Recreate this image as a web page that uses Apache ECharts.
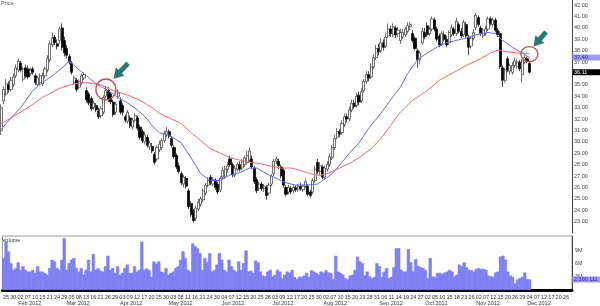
<!DOCTYPE html>
<html><head><meta charset="utf-8">
<script src="https://cdn.jsdelivr.net/npm/echarts@6/dist/echarts.min.js"></script>
<style>html,body{margin:0;padding:0;background:#fff}#c{width:600px;height:306px}</style>
</head><body><div id="c"></div>
<script>
// Trading days shown on the axis (2012)
const monthDays = [
  ['Jan', [24,25,26,27,30,31]],
  ['Feb', [1,2,3,6,7,8,9,10,13,14,15,16,17,21,22,23,24,27,28,29]],
  ['Mar', [1,2,5,6,7,8,9,12,13,14,15,16,19,20,21,22,23,26,27,28,29,30]],
  ['Apr', [2,3,4,5,9,10,11,12,13,16,17,18,19,20,23,24,25,26,27,30]],
  ['May', [1,2,3,4,7,8,9,10,11,14,15,16,17,18,21,22,23,24,25,29,30,31]],
  ['Jun', [1,4,5,6,7,8,11,12,13,14,15,18,19,20,21,22,25,26,27,28,29]],
  ['Jul', [2,3,5,6,9,10,11,12,13,16,17,18,19,20,23,24,25,26,27,30,31]],
  ['Aug', [1,2,3,6,7,8,9,10,13,14,15,16,17,20,21,22,23,24,27,28,29,30,31]],
  ['Sep', [4,5,6,7,10,11,12,13,14,17,18,19,20,21,24,25,26,27,28]],
  ['Oct', [1,2,3,4,5,8,9,10,11,12,15,16,17,18,19,22,23,24,25,26,31]],
  ['Nov', [1,2,5,6,7,8,9,12,13,14,15,16,19,20,21,23,26,27,28,29,30]],
  ['Dec', [3,4,5,6,7,10,11,12,13,14,17,18,19,20,21,24,26,27,28]]
];
// [open, close, low, high]
const candles = [
[31.0,33.0,30.6,33.3],[33.6,34.6,33.3,34.9],[34.2,35.1,34.0,35.5],[35.0,34.6,34.3,35.3],[34.6,35.4,34.4,35.7],
[35.0,35.7,34.8,36.0],[35.8,36.5,35.6,36.8],[36.3,37.1,36.1,37.3],[36.9,36.3,36.1,37.1],[35.5,36.4,35.3,36.6],
[36.5,35.8,35.6,36.8],[36.4,35.7,35.5,36.7],[36.0,36.3,35.8,36.5],[36.4,36.1,35.9,36.6],[35.8,35.2,35.0,36.0],
[35.0,35.6,34.9,35.8],[35.2,35.8,35.0,36.0],[35.1,35.8,34.9,36.1],[35.8,36.4,35.6,36.6],[36.3,37.3,36.1,37.6],
[37.2,38.6,37.0,38.9],[38.5,39.1,38.3,39.6],[39.2,38.7,38.5,39.4],[38.6,38.4,38.1,39.0],[38.9,39.9,38.6,40.1],
[40.0,38.3,38.0,40.4],[38.9,37.8,37.5,39.2],[38.2,37.6,37.3,38.5],[37.5,37.0,36.8,37.7],[36.9,36.1,35.9,37.1],
[35.2,35.6,35.0,35.8],[35.4,34.6,34.4,35.6],[34.8,35.3,34.6,35.5],[35.2,35.8,35.0,36.0],[35.6,35.9,35.4,36.1],
[34.5,33.7,33.5,34.8],[34.2,33.4,33.2,34.4],[33.8,32.9,32.7,34.0],[33.0,33.4,32.8,33.6],[33.2,32.8,32.6,33.4],
[32.7,32.2,32.0,33.0],[32.3,32.9,32.1,33.1],[32.6,33.9,32.4,34.1],[34.0,34.5,33.8,34.9],[34.5,33.7,33.5,34.8],
[34.2,33.5,33.3,34.4],[33.5,32.4,32.2,33.7],[32.6,33.3,32.4,33.5],[34.0,34.3,33.8,34.6],[33.6,32.6,32.4,33.9],
[33.2,32.6,32.3,33.4],[32.2,31.9,31.7,32.4],[31.8,32.6,31.6,32.8],[32.1,31.4,31.2,32.3],[31.3,31.9,31.1,32.1],
[31.9,32.3,31.7,32.5],[32.1,31.2,31.0,32.3],[31.3,30.4,30.2,31.5],[30.9,30.1,29.9,31.1],[30.0,30.6,29.8,30.9],
[30.4,29.7,29.5,30.6],[29.6,29.9,29.3,30.1],[29.6,29.2,29.0,29.9],[28.9,28.2,28.0,29.1],[28.5,29.5,28.3,29.7],
[29.3,29.8,29.1,30.1],[29.5,30.1,29.3,30.3],[30.1,30.7,29.9,31.0],[30.6,30.9,30.4,31.3],[30.9,30.5,30.3,31.1],
[30.3,29.7,29.5,30.5],[29.5,28.7,28.5,29.7],[28.8,27.8,27.6,29.0],[27.9,27.4,27.2,28.2],[27.2,26.4,26.2,27.4],
[26.3,26.9,26.0,27.1],[26.8,26.1,25.9,27.0],[25.7,24.3,24.1,25.9],[24.6,23.6,23.4,24.8],[23.9,23.1,22.9,24.1],
[23.3,24.2,23.0,24.4],[24.1,24.7,23.9,25.0],[24.5,25.0,24.3,25.2],[24.9,25.7,24.7,25.9],[25.5,26.2,25.3,26.4],
[26.2,26.6,26.0,26.9],[26.9,26.4,26.2,27.1],[26.3,26.7,26.1,26.9],[26.6,26.0,25.8,26.8],[26.3,25.6,25.4,26.5],
[25.8,26.8,25.6,27.0],[26.9,27.5,26.7,27.8],[27.0,27.6,26.8,27.9],[27.6,27.9,27.3,28.2],[28.5,28.0,27.8,28.8],
[28.0,27.1,26.9,28.2],[27.1,27.7,26.9,27.9],[27.6,28.0,27.4,28.2],[28.0,27.6,27.4,28.3],[27.7,28.3,27.5,28.5],
[28.0,28.6,27.8,28.8],[28.2,28.8,28.0,29.2],[28.4,29.2,28.2,29.5],[28.5,27.8,27.6,28.8],[27.7,26.5,26.3,27.9],
[26.7,25.7,25.5,26.9],[25.9,26.3,25.7,26.5],[26.3,25.9,25.7,26.5],[25.9,26.1,25.6,26.3],[26.0,25.3,24.9,26.2],
[25.5,26.2,25.3,26.4],[26.3,27.0,26.1,27.2],[27.2,28.3,27.0,28.5],[28.3,28.5,28.0,28.7],[28.3,27.9,27.6,28.5],
[27.8,27.0,26.8,28.0],[27.5,26.2,26.0,27.7],[26.0,25.4,25.2,26.2],[25.6,26.0,25.4,26.2],[25.9,25.6,25.4,26.1],
[25.7,26.0,25.5,26.3],[26.0,25.8,25.6,26.2],[25.8,26.1,25.6,26.3],[26.1,25.9,25.7,26.4],[25.8,26.1,25.6,26.3],
[26.1,26.5,25.9,26.8],[26.1,25.4,25.2,26.3],[25.6,25.3,25.1,25.8],[25.6,26.6,25.4,26.8],[26.6,27.6,26.4,27.9],
[28.2,27.4,27.2,28.5],[27.4,27.9,27.1,28.2],[27.8,26.9,26.7,28.0],[26.9,27.7,26.7,27.9],[27.6,28.0,27.4,28.3],
[28.0,28.7,27.8,29.0],[28.6,29.5,28.4,29.7],[29.5,30.3,29.3,30.6],[30.4,30.9,30.2,31.2],[30.9,30.7,30.4,31.1],
[30.8,31.6,30.6,31.9],[31.5,32.2,31.3,32.5],[32.2,32.0,31.7,32.5],[32.0,32.8,31.8,33.1],[32.8,33.4,32.6,33.7],
[33.4,33.1,32.9,33.7],[33.2,34.0,33.0,34.3],[34.1,33.5,33.2,34.4],[33.6,34.4,33.4,34.7],[34.5,35.3,34.3,35.5],
[35.3,35.9,35.1,36.2],[35.9,35.6,35.3,36.2],[35.7,36.6,35.5,36.9],[36.6,37.4,36.4,37.7],[37.4,38.2,37.2,38.5],
[38.2,37.9,37.6,38.6],[38.0,38.7,37.8,39.1],[38.7,38.3,38.0,39.0],[38.4,39.2,38.2,39.6],[39.3,39.9,39.1,40.4],
[39.9,39.5,39.2,40.2],[39.4,40.1,39.2,40.4],[40.0,39.4,39.1,40.2],[39.5,39.8,39.2,40.1],[38.9,39.6,38.6,39.9],
[39.2,39.6,39.0,39.9],[39.4,39.9,39.2,40.1],[39.7,40.2,39.5,40.5],[40.1,40.3,39.8,40.5],[39.5,38.9,38.7,39.8],
[39.1,38.2,38.0,39.3],[38.0,37.2,36.5,38.2],[37.2,37.8,36.8,38.0],[38.7,39.7,38.5,40.0],[39.6,39.2,39.0,40.0],
[40.2,39.4,39.2,40.5],[39.5,39.9,39.3,40.1],[39.9,40.8,39.7,41.0],[40.7,39.9,39.7,40.9],[39.9,39.0,38.8,40.1],
[39.3,38.5,38.3,39.5],[38.6,39.5,38.4,39.7],[39.4,39.0,38.8,39.7],[39.0,38.5,38.3,39.3],[38.7,39.6,38.5,39.8],
[39.4,40.0,39.2,40.3],[39.9,39.5,39.3,40.1],[39.5,40.6,39.3,40.9],[40.3,39.7,39.5,40.5],[39.7,39.3,39.1,40.0],
[39.4,40.5,39.2,40.7],[40.3,39.3,39.1,40.5],[39.2,38.3,37.6,39.4],[38.4,39.1,38.2,39.3],[39.1,39.6,38.9,39.9],
[40.0,41.1,39.8,41.3],[40.9,40.3,40.1,41.1],[40.0,39.5,39.3,40.2],[39.3,39.8,39.1,40.0],[39.5,39.9,39.3,40.2],
[39.9,40.8,39.7,41.0],[40.8,40.4,40.2,41.0],[40.3,40.7,40.1,40.9],[40.7,39.8,39.6,40.9],[39.8,39.4,39.2,40.0],
[39.5,36.6,36.4,39.7],[36.5,35.4,34.8,36.7],[35.4,36.3,35.2,36.5],[37.3,36.3,36.1,37.5],[36.2,36.7,35.9,36.9],
[36.1,36.7,35.9,37.0],[36.7,37.1,36.5,37.4],[36.6,37.0,36.4,37.3],[37.0,36.4,36.2,37.2],[35.9,37.1,35.2,37.3],
[37.0,37.4,36.8,37.6],[37.3,37.1,36.9,37.5],[36.9,36.11,36.0,37.1]
];
// Volume in millions of shares
const volumes = [
7.3,11.0,8.8,6.1,4.6,5.0,6.3,4.6,5.4,4.6,
4.2,4.2,4.6,3.9,5.4,4.2,4.2,3.9,3.5,5.0,
6.9,6.5,5.0,4.6,6.9,11.8,4.6,6.1,6.9,7.3,
5.0,4.2,5.0,3.5,4.6,6.9,4.2,8.2,4.6,5.0,4.4,
4.2,5.4,7.8,4.6,5.0,3.9,5.4,3.5,3.9,5.0,
5.8,3.9,3.9,5.4,4.2,4.6,11.0,4.6,4.9,4.6,
3.0,6.5,6.0,6.5,4.2,4.0,5.0,3.5,3.9,4.2,5.0,
5.4,6.9,8.8,7.3,4.6,4.2,10.6,10.0,9.5,8.4,
4.6,7.3,6.3,8.4,4.2,4.6,5.8,8.4,6.9,4.6,
4.2,6.9,5.4,4.6,4.2,6.5,4.6,6.1,9.0,4.2,4.4,
3.9,6.7,6.3,4.2,3.3,3.1,4.2,4.6,3.1,3.5,
4.6,4.2,2.7,3.5,4.2,3.9,4.6,3.0,2.5,3.0,
3.0,3.3,3.9,3.0,4.5,4.2,3.9,3.5,4.2,4.0,
4.5,4.0,3.9,2.5,7.8,4.2,3.9,3.5,2.7,2.4,
3.3,3.5,4.6,7.6,6.5,6.1,3.3,4.2,3.1,2.7,
3.0,6.1,5.4,3.0,4.2,5.0,2.7,3.0,5.2,9.5,
9.5,4.6,4.2,4.2,9.3,6.3,4.2,7.0,5.5,5.2,
5.0,4.6,2.7,7.3,3.1,3.0,3.9,3.9,3.7,4.0,4.2,
4.6,4.2,3.1,3.5,5.8,5.4,6.3,5.2,4.6,4.5,
4.2,4.8,5.0,4.8,4.8,4.6,3.3,3.1,3.0,4.0,4.2,
7.6,7.8,6.9,4.2,3.3,3.0,1.5,2.4,2.7,3.0,4.0,2.5,2.390111
];
// Moving averages: [day index, value]
const maFast = [[0,31.1],[4,32.1],[8,33.0],[13,34.5],[17,35.2],[21,35.8],[25,36.5],[28,37.1],[31,36.5],[35,35.8],
[39,35.1],[44,34.5],[48,33.9],[52,33.4],[56,32.8],[60,32.0],[62,31.4],[65,30.8],[69,30.6],[74,29.9],[78,28.6],
[82,27.2],[86,26.6],[90,26.6],[94,27.1],[98,27.3],[102,27.7],[105,27.7],[109,27.2],[113,26.8],[117,26.4],
[121,26.2],[126,26.2],[130,26.3],[132,26.6],[136,27.2],[140,28.2],[143,29.0],[147,29.9],[151,31.2],[156,32.5],
[160,33.7],[164,34.8],[167,36.0],[171,37.2],[175,37.8],[179,38.3],[183,38.7],[187,38.9],[191,39.1],[195,39.4],
[200,39.6],[203,39.5],[206,38.9],[210,38.3],[214,37.8],[217,37.4]];
const maSlow = [[0,31.6],[4,32.1],[11,33.0],[17,33.9],[24,34.7],[30,35.1],[35,35.2],[41,35.0],[46,34.5],[52,34.1],
[57,33.65],[62,33.0],[65,32.5],[69,32.1],[74,31.6],[78,30.8],[82,30.1],[86,29.4],[90,29.0],[94,28.6],[98,28.4],
[102,28.2],[106,28.1],[110,27.9],[115,27.7],[119,27.7],[123,27.5],[127,27.2],[131,27.05],[135,27.3],[139,27.7],
[143,28.1],[147,28.6],[152,29.4],[156,30.3],[160,31.45],[164,32.6],[169,33.65],[175,34.5],[180,35.4],[186,36.1],
[191,36.7],[197,37.3],[201,37.8],[204,38.05],[208,37.9],[212,37.8],[217,37.75]];
// Annotated crossovers: [day index, price]
const highlights = [[43,34.6],[217,37.7]];
const fastLast = 37.40, lastClose = 36.11, lastVolume = 2390111;
const yTicks = {min:22, max:42.45, step:1};
const volTicks = {min:0, max:12.3, step:3, labels:[3,6,9]};

const cats = [], monthStart = new Map();
const monthNum = {Jan:'01',Feb:'02',Mar:'03',Apr:'04',May:'05',Jun:'06',Jul:'07',Aug:'08',Sep:'09',Oct:'10',Nov:'11',Dec:'12'};
monthDays.forEach(([m, ds]) => {
  ds.forEach((d, k) => {
    if (k === 0 && m !== 'Jan') monthStart.set(cats.length, m + ' 2012');
    cats.push('2012-' + monthNum[m] + '-' + String(d).padStart(2,'0'));
  });
});
function sparse(pts){ const a = new Array(candles.length).fill(null); pts.forEach(([i,v]) => a[i] = v); return a; }

const FF = '"Liberation Sans", Arial, sans-serif';
const chart = echarts.init(document.getElementById('c'), null, {renderer:'canvas'});
chart.setOption({
  animation:false,
  backgroundColor:'#fff',
  grid:[{left:0,right:28,top:0,height:233},
        {left:0,right:28,top:236,height:55,show:true,borderColor:'#999',borderWidth:1}],
  xAxis:[
    {gridIndex:0,type:'category',data:cats,axisLine:{show:false},axisTick:{show:false},axisLabel:{show:false},splitLine:{show:false}},
    {gridIndex:1,type:'category',data:cats,axisLine:{lineStyle:{color:'#000',width:3}},axisTick:{show:false},splitLine:{show:false},
     axisLabel:{interval:(i)=>i%3===1,formatter:(v)=>v.slice(8),fontSize:5.5,color:'#333',margin:4,fontFamily:FF}},
    {gridIndex:1,type:'category',data:cats,position:'bottom',offset:6,axisLine:{show:false},axisTick:{show:false},splitLine:{show:false},
     axisLabel:{interval:(i)=>monthStart.has(i),formatter:(v,i)=>monthStart.get(i)||'',align:'left',fontSize:5.5,color:'#333',margin:4,fontFamily:FF}}
  ],
  yAxis:[
    {gridIndex:0,type:'value',position:'right',min:yTicks.min,max:yTicks.max,interval:yTicks.step,
     axisLine:{show:true,lineStyle:{color:'#444'}},axisTick:{show:false},splitLine:{show:false},
     axisLabel:{formatter:(v)=>v.toFixed(2),fontSize:5.5,color:'#444',margin:2,fontFamily:FF,showMinLabel:false,showMaxLabel:false}},
    {gridIndex:1,type:'value',position:'right',min:volTicks.min,max:volTicks.max,interval:volTicks.step,
     axisLine:{show:true,lineStyle:{color:'#444'}},axisTick:{show:false},splitLine:{show:false},
     axisLabel:{formatter:(v)=>volTicks.labels.includes(v)?v+'M':'',fontSize:5.5,color:'#444',margin:3,fontFamily:FF,showMinLabel:false,showMaxLabel:false}}
  ],
  series:[
    {type:'candlestick',xAxisIndex:0,yAxisIndex:0,data:candles,barWidth:2.6,
     itemStyle:{color:'#fff',color0:'#000',borderColor:'#333',borderColor0:'#000',borderWidth:0.7}},
    {type:'line',xAxisIndex:0,yAxisIndex:0,data:sparse(maSlow),connectNulls:true,showSymbol:false,
     lineStyle:{color:'#ee6b6b',width:1}},
    {type:'line',xAxisIndex:0,yAxisIndex:0,data:sparse(maFast),connectNulls:true,showSymbol:false,
     lineStyle:{color:'#6b6bee',width:1}},
    {type:'bar',xAxisIndex:1,yAxisIndex:1,data:volumes,barWidth:3.2,large:false,
     itemStyle:{color:'#8080f2',borderColor:'#8080f2',borderWidth:0.6}}
  ]
});

function arrowPts(tx,ty,sx,sy){
  const dx=tx-sx, dy=ty-sy, L=Math.hypot(dx,dy), ux=dx/L, uy=dy/L, px=-uy, py=ux;
  const hl=9, hw=5.5, sw=2.2, bx=tx-ux*hl, by=ty-uy*hl;
  return [[tx,ty],[bx+px*hw,by+py*hw],[bx+px*sw,by+py*sw],[sx+px*sw,sy+py*sw],[sx-px*sw,sy-py*sw],[bx-px*sw,by-py*sw],[bx-px*hw,by-py*hw]];
}
const g = [];
const circleSize = [[10,10.5],[8.5,7.5]];
const arrowOff = [[[8,-11],[22,-26]],[[4.5,-8],[16.5,-22]]];
highlights.forEach((h, k) => {
  const [cx, cy] = chart.convertToPixel({xAxisIndex:0,yAxisIndex:0}, h);
  g.push({type:'ellipse',shape:{cx:cx,cy:cy,rx:circleSize[k][0],ry:circleSize[k][1]},style:{fill:null,stroke:'#c0584f',lineWidth:1.4},z:100});
  const [t,s] = arrowOff[k];
  g.push({type:'polygon',shape:{points:arrowPts(cx+t[0],cy+t[1],cx+s[0],cy+s[1])},style:{fill:'#2a7870',stroke:'#1d5f58',lineWidth:0.5},z:100});
});
const ax = 572.5;
function tag(y, text, bg, fg){
  g.push({type:'rect',shape:{x:ax,y:y-3,width:28,height:6},style:{fill:bg},z:100});
  g.push({type:'text',x:ax+1.5,y:y,style:{text:text,fill:fg,fontSize:5.5,fontFamily:FF,verticalAlign:'middle'},z:101});
}
tag(chart.convertToPixel({yAxisIndex:0}, fastLast), fastLast.toFixed(2), '#9c9cff', '#2a2a8a');
tag(chart.convertToPixel({yAxisIndex:0}, lastClose), lastClose.toFixed(2), '#000', '#fff');
tag(chart.convertToPixel({yAxisIndex:1}, lastVolume/1e6), lastVolume.toLocaleString('en-US'), '#9c9cff', '#2a2a8a');
g.push({type:'text',x:1,y:0.5,style:{text:'Price',fill:'#555',fontSize:5.5,fontFamily:FF},z:100});
g.push({type:'text',x:2,y:237.5,style:{text:'Volume',fill:'#333',fontSize:5.5,fontFamily:FF},z:100});
chart.setOption({graphic:g});
</script>
</body></html>
